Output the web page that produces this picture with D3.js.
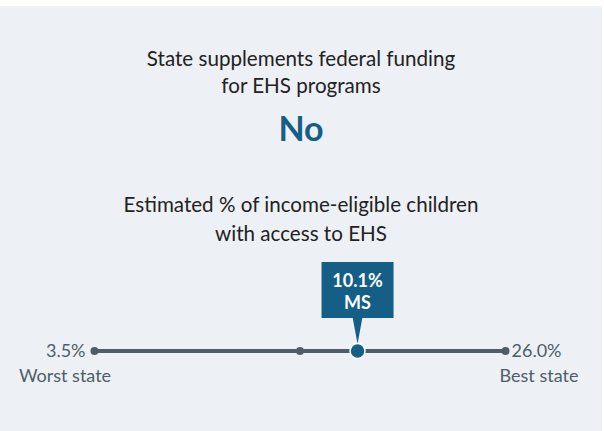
<!DOCTYPE html>
<html>
<head>
<meta charset="utf-8">
<script src="https://cdn.jsdelivr.net/npm/d3@7"></script>
<style>
  html, body { margin: 0; padding: 0; background: #fff; }
  svg { display: block; font-family: Lato, "Noto Sans", sans-serif; }
</style>
</head>
<body>
<div id="chart"></div>
<script>
// Data
const titleLines = ["State supplements federal funding", "for EHS programs"];
const answer = "No";
const metricLines = ["Estimated % of income-eligible children", "with access to EHS"];
const stateName = "MS";
const stateValue = 10.1;
const worstValue = 3.5;
const bestValue = 26.0;
const endLabels = ["Worst state", "Best state"];
// states are placed by rank (1 = worst, 51 = best); median rank sits in the middle
const stateCount = 51;
const medianRank = 26;
const stateRank = 33;

const W = 604, H = 431;
const colors = {
  panel: "#edf0f5",
  text: "#222222",
  muted: "#4e5e69",
  line: "#4e5e69",
  accent: "#155f86"
};

const svg = d3.select("#chart").append("svg")
  .attr("width", W).attr("height", H);

svg.append("rect")
  .attr("x", 0).attr("y", 6)
  .attr("width", 602).attr("height", H - 6)
  .attr("fill", colors.panel);

const cx = 301;
const fmt = d => d3.format(".1f")(d) + "%";

// Title block
svg.append("g").selectAll("text").data(titleLines).join("text")
  .attr("x", cx).attr("y", (d, i) => 66 + i * 27)
  .attr("text-anchor", "middle")
  .attr("font-size", 20.6)
  .attr("fill", colors.text)
  .text(d => d);

svg.append("text")
  .attr("x", cx).attr("y", 141)
  .attr("text-anchor", "middle")
  .attr("font-size", 34)
  .attr("font-weight", 700)
  .attr("fill", colors.accent)
  .text(answer);

svg.append("g").selectAll("text").data(metricLines).join("text")
  .attr("x", cx).attr("y", (d, i) => 212 + i * 29)
  .attr("text-anchor", "middle")
  .attr("font-size", 20.6)
  .attr("fill", colors.text)
  .text(d => d);

// Rank scale
const x = d3.scaleLinear()
  .domain([1, stateCount])
  .range([94.5, 505.5]);
const lineY = 351;

const g = svg.append("g");

g.append("line")
  .attr("x1", x(1)).attr("x2", x(stateCount))
  .attr("y1", lineY).attr("y2", lineY)
  .attr("stroke", colors.line)
  .attr("stroke-width", 4);

g.selectAll("circle.tick").data([1, medianRank, stateCount]).join("circle")
  .attr("class", "tick")
  .attr("cx", d => x(d)).attr("cy", lineY)
  .attr("r", 4)
  .attr("fill", colors.line);

// end labels
g.append("text")
  .attr("x", x(1) - 9).attr("y", lineY + 6)
  .attr("text-anchor", "end")
  .attr("font-size", 18)
  .attr("fill", colors.muted)
  .text(fmt(worstValue));

g.append("text")
  .attr("x", x(stateCount) + 6).attr("y", lineY + 6)
  .attr("text-anchor", "start")
  .attr("font-size", 18)
  .attr("fill", colors.muted)
  .text(fmt(bestValue));

g.append("text")
  .attr("x", 65).attr("y", 382)
  .attr("text-anchor", "middle")
  .attr("font-size", 18)
  .attr("fill", colors.muted)
  .text(endLabels[0]);

g.append("text")
  .attr("x", 539).attr("y", 382)
  .attr("text-anchor", "middle")
  .attr("font-size", 18)
  .attr("fill", colors.muted)
  .text(endLabels[1]);

// state marker + callout
const sx = x(stateRank);
const boxW = 72, boxH = 56, boxTop = 262;

g.append("path")
  .attr("d", `M${sx - 5},${boxTop + boxH - 1} L${sx + 5},${boxTop + boxH - 1} L${sx},${lineY - 7} Z`)
  .attr("fill", colors.accent);

g.append("rect")
  .attr("x", sx - boxW / 2).attr("y", boxTop)
  .attr("width", boxW).attr("height", boxH)
  .attr("fill", colors.accent);

g.append("text")
  .attr("x", sx).attr("y", boxTop + 25)
  .attr("text-anchor", "middle")
  .attr("font-size", 18).attr("font-weight", 700)
  .attr("fill", "#fff")
  .text(fmt(stateValue));

g.append("text")
  .attr("x", sx).attr("y", boxTop + 47)
  .attr("text-anchor", "middle")
  .attr("font-size", 18).attr("font-weight", 700)
  .attr("fill", "#fff")
  .text(stateName);

g.append("circle")
  .attr("cx", sx).attr("cy", lineY)
  .attr("r", 7.5)
  .attr("fill", colors.accent)
  .attr("stroke", "#fff")
  .attr("stroke-width", 1.5);
</script>
</body>
</html>
